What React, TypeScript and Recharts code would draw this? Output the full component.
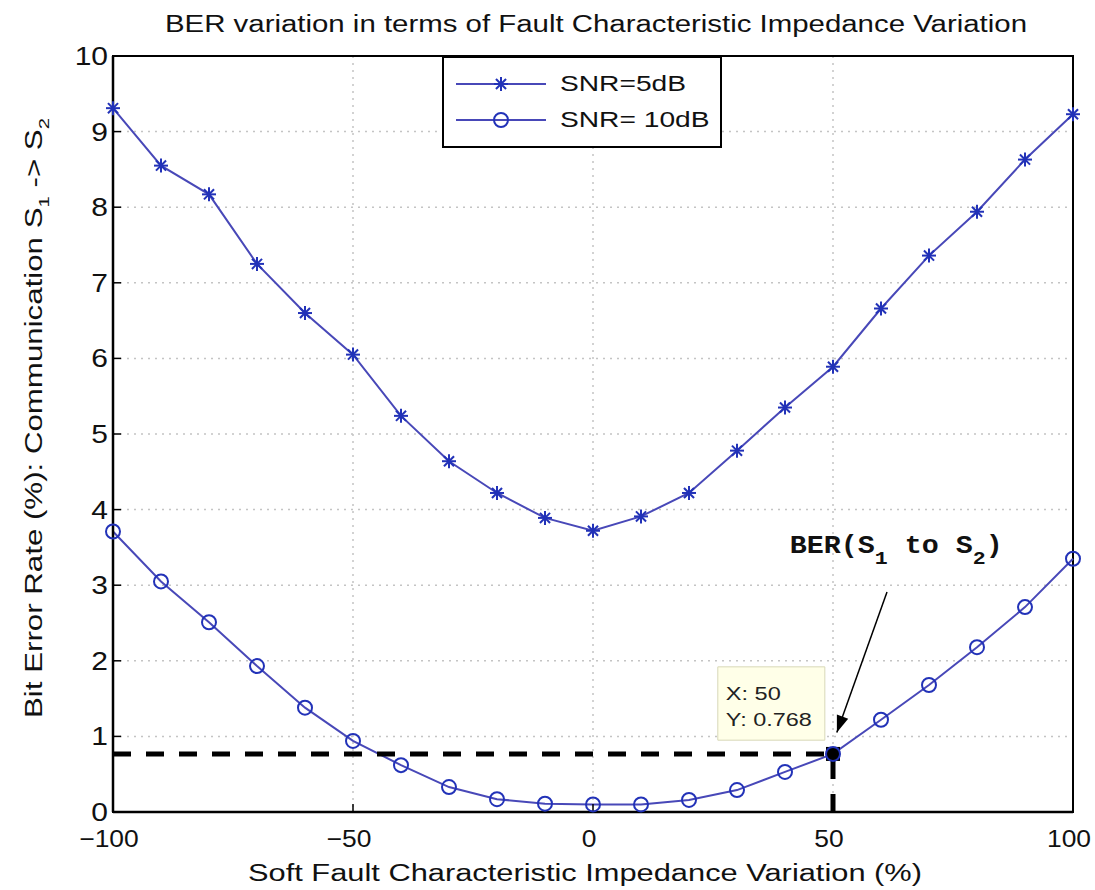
import React from 'react';
import {
  LineChart, Line, XAxis, YAxis, CartesianGrid, Legend,
  ReferenceLine, ReferenceArea, ReferenceDot,
} from 'recharts';

// impedance variation (%)
const variation = [-100, -90, -80, -70, -60, -50, -40, -30, -20, -10, 0, 10, 20, 30, 40, 50, 60, 70, 80, 90, 100];
// BER (%) for each SNR
const ber5dB = [9.31, 8.55, 8.17, 7.25, 6.6, 6.05, 5.24, 4.64, 4.22, 3.89, 3.72, 3.91, 4.22, 4.78, 5.35, 5.89, 6.66, 7.36, 7.94, 8.63, 9.23];
const ber10dB = [3.71, 3.05, 2.51, 1.93, 1.38, 0.94, 0.62, 0.33, 0.17, 0.11, 0.1, 0.1, 0.16, 0.29, 0.53, 0.768, 1.22, 1.68, 2.18, 2.71, 3.35];

const xTicks = [-100, -50, 0, 50, 100];
const yTicks = [0, 1, 2, 3, 4, 5, 6, 7, 8, 9, 10];

// data tip picked on the 10dB curve
const tipX = 50;
const tipY = 0.768;

const data = variation.map((x, i) => ({ x, snr5: ber5dB[i], snr10: ber10dB[i] }));

const LINE = '#4848b8';
const MARK = '#2232b8';
const FONT = '"Liberation Sans", Arial, Helvetica, sans-serif';
const STRETCH = 1.2;

const StarDot = (props: any) => {
  const { cx, cy } = props;
  if (cx == null || cy == null) return null;
  const r = 7;
  const d = r * 0.72;
  return (
    <g stroke={MARK} strokeWidth={2}>
      <line x1={cx} y1={cy - r} x2={cx} y2={cy + r} />
      <line x1={cx - r} y1={cy} x2={cx + r} y2={cy} />
      <line x1={cx - d} y1={cy - d} x2={cx + d} y2={cy + d} />
      <line x1={cx - d} y1={cy + d} x2={cx + d} y2={cy - d} />
    </g>
  );
};

const TipMark = (props: any) => {
  const { cx, cy } = props;
  if (cx == null) return null;
  return <rect x={cx - 7} y={cy - 7} width={14} height={14} fill="#000" />;
};

const Arrow = (props: any) => {
  const { x1, y1, x2, y2 } = props;
  if (x1 == null) return null;
  const ang = Math.atan2(y2 - y1, x2 - x1);
  const len = 18;
  const w = 0.34;
  const ax = x2 - len * Math.cos(ang - w);
  const ay = y2 - len * Math.sin(ang - w);
  const bx = x2 - len * Math.cos(ang + w);
  const by = y2 - len * Math.sin(ang + w);
  return (
    <g>
      <line x1={x1} y1={y1} x2={x2} y2={y2} stroke="#000" strokeWidth={1.5} />
      <polygon points={`${x2},${y2} ${ax},${ay} ${bx},${by}`} fill="#000" />
    </g>
  );
};

const XTick = (props: any) => {
  const { x, y, payload } = props;
  const v = payload.value as number;
  const s = v < 0 ? `\u2212${-v}` : `${v}`;
  return (
    <text transform={`translate(${x - 4},${y + 19}) scale(1.1,1)`} textAnchor="middle"
      fontFamily={FONT} fontSize={24} fill="#111">
      {s}
    </text>
  );
};

const YTick = (props: any) => {
  const { x, y, payload } = props;
  return (
    <text transform={`translate(${x},${y + 9}) scale(${STRETCH},1)`} textAnchor="end"
      fontFamily={FONT} fontSize={25} fill="#111">
      {payload.value}
    </text>
  );
};

const LegendBox = () => (
  <div style={{
    width: 276, height: 88, border: '2px solid #000', background: '#fff',
    fontFamily: FONT, fontSize: 22, color: '#111',
  }}>
    {[
      { label: 'SNR=5dB', star: true },
      { label: 'SNR= 10dB', star: false },
    ].map((e, i) => (
      <div key={i} style={{ display: 'flex', alignItems: 'center', height: 36, marginTop: i === 0 ? 8 : 0 }}>
        <svg width={104} height={24} style={{ marginLeft: 12 }}>
          <line x1={0} y1={12} x2={90} y2={12} stroke={LINE} strokeWidth={2} />
          {e.star ? <StarDot cx={45} cy={12} /> : <circle cx={45} cy={12} r={7} stroke={MARK} strokeWidth={2} fill="none" />}
        </svg>
        <span style={{ display: 'inline-block', transform: 'scaleX(1.28)', transformOrigin: 'left center', whiteSpace: 'pre' }}>
          {e.label}
        </span>
      </div>
    ))}
  </div>
);

const App: React.FC = () => {
  return (
    <div style={{ position: 'absolute', left: 0, top: 0, width: 1095, height: 890, background: '#fff' }}>
      <svg width={1095} height={50} style={{ position: 'absolute', left: 0, top: 0 }}>
        <text x={596} y={32} textAnchor="middle" fontFamily={FONT} fontSize={23} fill="#111"
          textLength={862} lengthAdjust="spacingAndGlyphs">
          BER variation in terms of Fault Characteristic Impedance Variation
        </text>
      </svg>
      <LineChart width={1095} height={890} data={data} margin={{ top: 56, right: 22, bottom: 0, left: 0 }}
        style={{ position: 'absolute', left: 0, top: 0 }}>
        <CartesianGrid stroke="#c4c4c4" strokeDasharray="2 5" strokeWidth={1.5} />
        <XAxis
          dataKey="x" type="number" domain={[-100, 100]} ticks={xTicks} height={78}
          axisLine={{ stroke: '#000', strokeWidth: 2.5 }} tickLine={{ stroke: '#000', strokeWidth: 1.5 }}
          tickSize={-8} tickMargin={24}
          tick={<XTick />}
          label={{
            content: (p: any) => {
              const vb = p.viewBox || {};
              return (
                <text x={vb.x + vb.width / 2 - 8} y={881} textAnchor="middle" fontFamily={FONT} fontSize={23} fill="#111"
                  textLength={674} lengthAdjust="spacingAndGlyphs">
                  Soft Fault Characteristic Impedance Variation (%)
                </text>
              );
            },
          }}
        />
        <YAxis
          type="number" domain={[0, 10]} ticks={yTicks} width={113} interval={0}
          axisLine={{ stroke: '#000', strokeWidth: 2.5 }} tickLine={{ stroke: '#000', strokeWidth: 1.5 }}
          tickSize={-8} tickMargin={13}
          tick={<YTick />}
          label={{
            content: () => (
              <text transform="translate(42,418) rotate(-90)" textAnchor="middle" fontFamily={FONT} fontSize={23} fill="#111"
                textLength={600} lengthAdjust="spacingAndGlyphs">
                Bit Error Rate (%): Communication S
                <tspan fontSize={15} dy={7}>1</tspan>
                <tspan dy={-7}> -&gt; S</tspan>
                <tspan fontSize={15} dy={7}>2</tspan>
              </text>
            ),
          }}
        />
        <ReferenceArea x1={-100} x2={100} y1={0} y2={10} fill="none" stroke="#000" strokeWidth={2} ifOverflow="visible" />
        <Line type="linear" dataKey="snr5" name="SNR=5dB" stroke={LINE} strokeWidth={2}
          dot={<StarDot />} activeDot={false} isAnimationActive={false} />
        <Line type="linear" dataKey="snr10" name="SNR= 10dB" stroke={LINE} strokeWidth={2}
          dot={{ r: 7, stroke: MARK, strokeWidth: 2, fill: 'none' }} activeDot={false} isAnimationActive={false} />
        <ReferenceLine segment={[{ x: -100, y: tipY }, { x: tipX, y: tipY }]} stroke="#000" strokeWidth={5}
          strokeDasharray="18 15" ifOverflow="visible" />
        <ReferenceLine segment={[{ x: tipX, y: 0 }, { x: tipX, y: tipY }]} stroke="#000" strokeWidth={5}
          strokeDasharray="18 15" ifOverflow="visible" />
        <ReferenceDot x={tipX} y={tipY} r={7} shape={<TipMark />} ifOverflow="visible" />
        <ReferenceArea x1={26} x2={48.3} y1={0.95} y2={1.92} fill="#ffffe8" fillOpacity={1} stroke="#d8d8b8"
          ifOverflow="visible"
          label={{
            content: (p: any) => {
              const vb = p.viewBox || {};
              return (
                <g fontFamily={FONT} fontSize={19} fill="#222">
                  <text x={vb.x + 8} y={vb.y + 33} textLength={55} lengthAdjust="spacingAndGlyphs">X: {tipX}</text>
                  <text x={vb.x + 8} y={vb.y + 59} textLength={86} lengthAdjust="spacingAndGlyphs">Y: {tipY}</text>
                </g>
              );
            },
          }}
        />
        <ReferenceLine segment={[{ x: 61.25, y: 2.91 }, { x: 50.8, y: 1.05 }]} shape={<Arrow />} ifOverflow="visible" />
        <ReferenceDot x={41} y={3.43} r={0} fill="none" stroke="none" ifOverflow="visible"
          label={{
            content: (p: any) => {
              const vb = p.viewBox || {};
              return (
                <text x={vb.x} y={vb.y} fontFamily='"Liberation Mono", "Courier New", monospace' fontWeight="bold"
                  fontSize={25} fill="#111" textLength={213} lengthAdjust="spacingAndGlyphs">
                  BER(S<tspan fontSize={19} dy={11}>1</tspan>
                  <tspan dy={-11}> to S</tspan>
                  <tspan fontSize={19} dy={11}>2</tspan>
                  <tspan dy={-11}>)</tspan>
                </text>
              );
            },
          }}
        />
        <Legend layout="vertical" align="center" verticalAlign="middle" content={<LegendBox />}
          wrapperStyle={{ left: 442, top: 56, width: 280, height: 92 }} />
      </LineChart>
    </div>
  );
};

export default App;
